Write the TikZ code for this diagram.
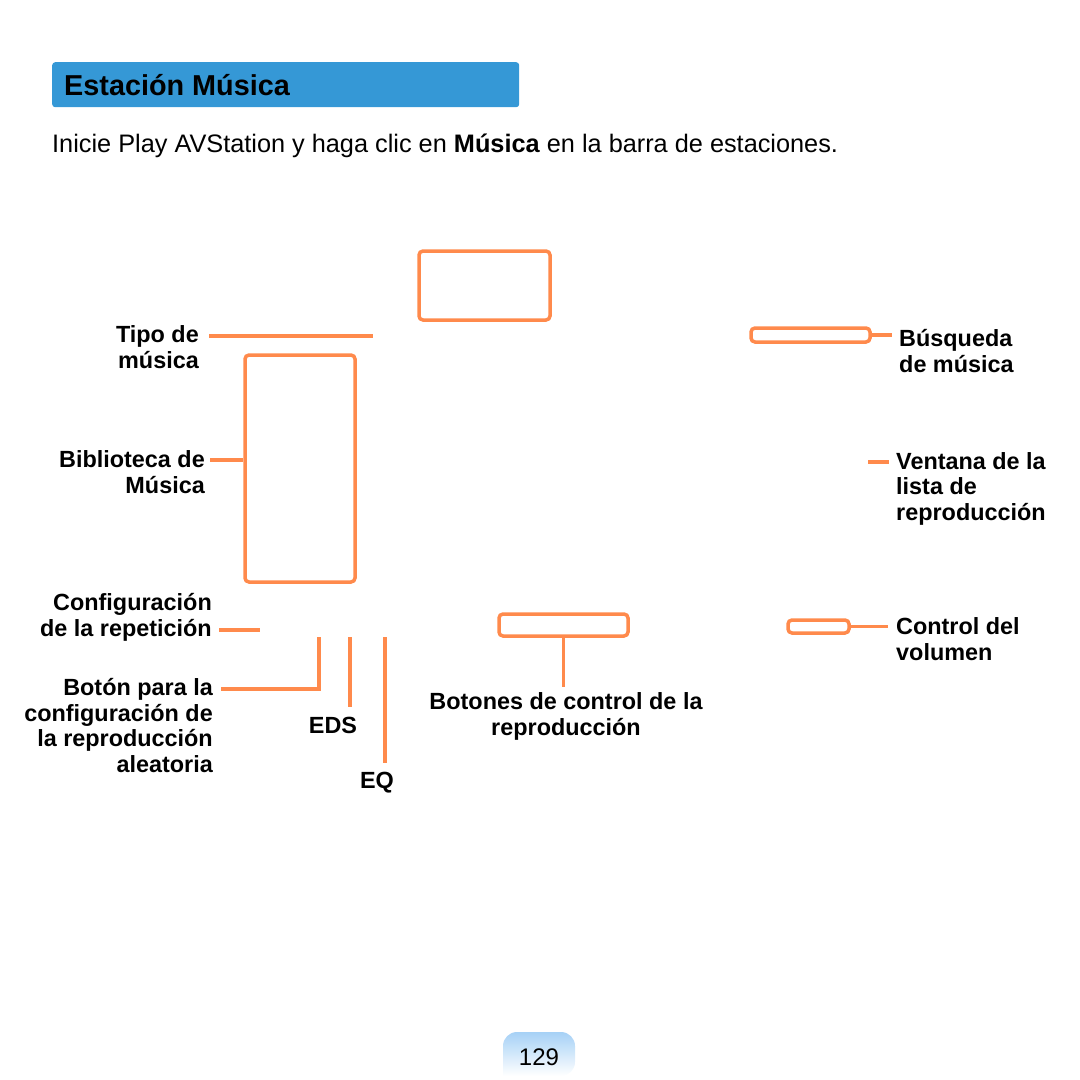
\documentclass[tikz,border=0pt]{standalone}
\usepackage{fontspec}
\setmainfont{Liberation Sans}
\usetikzlibrary{positioning}
\definecolor{samorange}{HTML}{FF8A4C}
\definecolor{titleblue}{HTML}{3598D6}
\definecolor{pageblue}{HTML}{A6D1F6}

\begin{document}
\begin{tikzpicture}[x=1pt,y=-1pt,
  frame/.style={draw=samorange, line width=3.5pt, rounded corners=4pt, inner sep=0pt},
  lead/.style={draw=samorange, line width=3.5pt},
  lbl/.style={font=\fontsize{23.4}{25.5}\selectfont\bfseries, inner sep=0pt}]
\useasboundingbox (0,0) rectangle (1080,1080);

% header
\node (titlebar) [fill=titleblue, rounded corners=3pt, minimum width=467pt, minimum height=45pt, anchor=north west] at (52,62) {};
\node (title) [anchor=base west, inner sep=0pt, font=\fontsize{28.8}{30}\selectfont\bfseries] at (64,95) {Estación Música};
\node (intro) [anchor=base west, inner sep=0pt, font=\fontsize{25.3}{28}\selectfont] at (52,152) {Inicie Play AVStation y haga clic en \textbf{Música} en la barra de estaciones.};

% frames
\node (top) [frame, minimum width=131pt, minimum height=69pt] at (484.5,285.5) {};
\node (lib) [frame, minimum width=110pt, minimum height=227pt] at (300,468.5) {};
\node (search) [frame, minimum width=119pt, minimum height=14pt] at (810.5,335) {};
\node (ctrl) [frame, minimum width=129pt, minimum height=22pt] at (563.5,625) {};
\node (vol) [frame, minimum width=61pt, minimum height=13pt] at (818.5,626.5) {};

% labels (anchored at the baseline of their last line)
\node (tipo) [lbl, align=right, anchor=base east] at (199,368) {Tipo de\\música};
\node (bib) [lbl, align=right, anchor=base east] at (205,493) {Biblioteca de\\Música};
\node (conf) [lbl, align=right, anchor=base east] at (212,636) {Configuración\\de la repetición};
\node (shuffle) [lbl, align=right, anchor=base east] at (213,772) {Botón para la\\configuración de\\la reproducción\\aleatoria};
\node (eds) [lbl, anchor=base] at (333,733) {EDS};
\node (eq) [lbl, anchor=base] at (377,788) {EQ};
\node (ctrltxt) [lbl, align=center, anchor=base] at (566,735) {Botones de control de la\\reproducción};
\node (searchtxt) [lbl, align=left, anchor=base west] at (899,372) {Búsqueda\\de música};
\node (list) [lbl, align=left, anchor=base west] at (896,520) {Ventana de la\\lista de\\reproducción};
\node (voltxt) [lbl, align=left, anchor=base west] at (896,660) {Control del\\volumen};

% leader lines
\coordinate (tipoA) at (209,336);
\coordinate (tipoB) at (373,336);
\coordinate (bibA) at (210,460);
\coordinate (listA) at (868,462);
\coordinate (listB) at (889,462);
\coordinate (confA) at (219,630);
\coordinate (confB) at (260,630);
\coordinate (shufA) at (221,689);
\coordinate (shufB) at (319,637);
\coordinate (edsA) at (350,637);
\coordinate (edsB) at (350,707);
\coordinate (eqA) at (385,637);
\coordinate (eqB) at (385,763);
\draw[lead] (tipoA) -- (tipoB);
\draw[lead] (bibA) -- (bibA -| lib.west);
\draw[lead] (search.east) -- ++(20,0);
\draw[lead] (listA) -- (listB);
\draw[lead] (confA) -- (confB);
\draw[lead] (shufA) -| (shufB);
\draw[lead] (edsA) -- (edsB);
\draw[lead] (eqA) -- (eqB);
\draw[lead] (ctrl.south) -- ++(0,49);
\draw[lead] (vol.east) -- ++(37,0);

% page number
\shade[top color=pageblue, bottom color=white] (503,1076) [rounded corners=14pt] -- (503,1032) -- (575,1032) -- (575,1076) [sharp corners] -- cycle;
\node (page) [anchor=base, inner sep=0pt, font=\fontsize{24}{26}\selectfont] at (539,1065) {129};
\end{tikzpicture}
\end{document}
